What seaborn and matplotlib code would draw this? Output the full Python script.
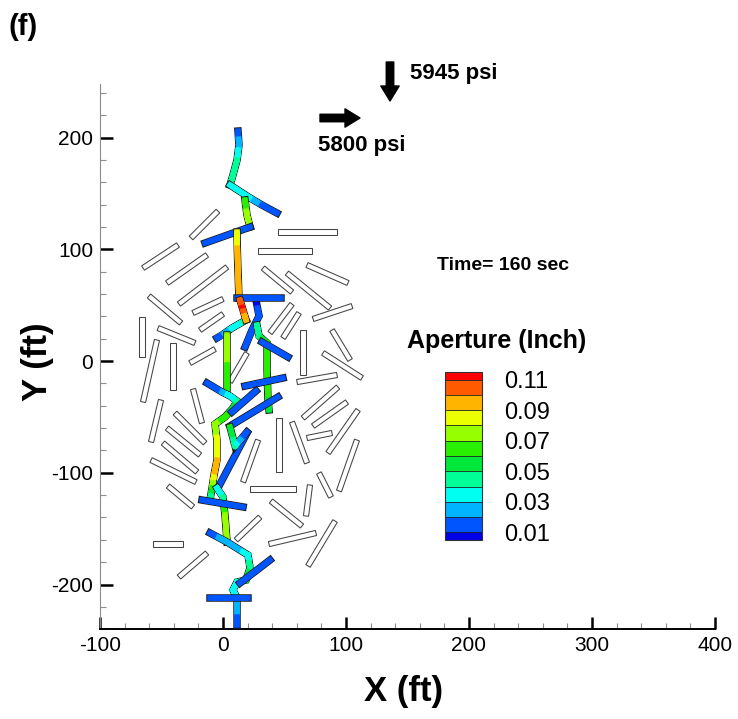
import numpy as np
import pandas as pd
import matplotlib
matplotlib.use("Agg")
import matplotlib.pyplot as plt
import seaborn as sns
from matplotlib.collections import LineCollection
from matplotlib.colors import ListedColormap, BoundaryNorm
from matplotlib.cm import ScalarMappable
from matplotlib.patches import Polygon, FancyArrowPatch
from matplotlib.ticker import MultipleLocator

# ---- natural fractures: end points (ft) ----
nf_x0 = [-26.0, -65.0, -45.5, -35.8, -24.4, -18.7, -65.9, -60.2, -52.8, -53.7,
         -40.7, -24.4, -50.4, -39.0, -45.5, -48.8, -58.5, -26.8, 5.7, 28.5,
         -44.7, -56.9, -35.8, 10.6, 44.7, 28.5, 32.5, 52.0, 68.3, 73.2,
         38.2, 48.8, 65.0, 88.6, 81.3, 60.2, 65.0, 73.2, 45.5, 56.1,
         68.3, 85.4, 94.3, 22.0, 39.0, 70.7, 78.0, 37.4, 91.1]
nf_y0 = [110.1, 83.2, 69.8, 51.0, 43.0, 27.7, 39.4, 58.2, 29.5, 18.8,
         16.1, -25.1, -34.9, -46.5, -60.0, -73.4, -88.6, -1.8, -18.8, -70.7,
         -111.9, -163.8, -193.3, -160.2, 115.4, 98.4, 83.2, 78.7, 85.9, 37.6,
         25.1, 20.6, 27.7, 27.7, 7.2, -18.8, -51.0, -58.2, -51.0, -54.6,
         -68.9, -82.3, -116.3, -114.5, -125.3, -111.0, -100.2, -163.8, -143.2]
nf_x1 = [-4.1, -36.6, -13.0, 3.3, 0.0, 0.0, -65.9, -34.1, -22.8, -65.0,
         -40.7, -17.1, -58.5, -14.6, -18.7, -21.1, -22.0, -6.5, 19.5, 16.3,
         -24.4, -32.5, -13.0, 30.1, 92.7, 72.4, 56.1, 87.0, 101.6, 104.9,
         56.1, 61.8, 65.0, 103.3, 113.0, 92.7, 93.5, 100.8, 45.5, 68.3,
         88.6, 109.8, 108.9, 59.3, 64.2, 67.5, 87.8, 75.6, 69.1]
nf_y1 = [134.2, 103.8, 94.9, 84.1, 55.5, 42.1, 3.6, 34.0, 16.1, -36.7,
         -26.0, -55.5, -72.5, -73.4, -84.1, -99.3, -108.3, 10.7, 7.2, -108.3,
         -130.6, -163.8, -171.8, -139.6, 115.4, 98.4, 61.7, 47.4, 69.8, 49.2,
         51.0, 43.0, -12.5, 0.9, -15.2, -12.5, -23.3, -36.7, -99.3, -91.3,
         -64.4, -43.8, -70.7, -114.5, -147.7, -138.7, -121.7, -153.9, -183.4]

# ---- hydraulic fracture traces (ft) and aperture (inch) at each vertex ----
hf_x = [
    [12.2, 13.0, 11.4, 8.1, 5.7],
    [5.7, 22.0, 31.7, 43.9],
    [17.9, 19.5, 22.0],
    [-14.6, 22.0],
    [11.4, 11.6, 12.2, 13.0],
    [18.7, 7.3, -0.8, -4.9],
    [26.8, 29.3, 23.6, 17.9],
    [3.3, 3.3, 3.3],
    [-13.0, -0.8, 5.7, 11.4, 8.1, 1.6, -6.5, -4.9, -4.9, -7.3, -8.9, -10.6],
    [27.6, 29.3, 35.8, 35.8, 36.6, 37.4],
    [31.7, 52.8],
    [17.9, 48.8],
    [7.3, 26.8],
    [5.7, 44.7],
    [19.5, -4.1],
    [5.7, 9.8, 19.5],
    [-4.9, 0.0, 1.6, 3.3],
    [-17.1, 16.3],
    [-10.6, 3.3, 20.3, 22.0, 18.7, 11.4, 8.1, 11.4, 11.4, 11.4],
    [-10.6, 20.3],
    [13.8, 38.2],
    [11.4, 47.2],
    [13.8, 16.3, 18.7],
]
hf_y = [
    [205.8, 193.3, 179.9, 166.4, 157.5],
    [157.5, 145.9, 139.6, 132.4],
    [144.1, 130.6, 119.9],
    [105.6, 119.9],
    [115.4, 101.0, 80.0, 56.4],
    [36.7, 29.5, 23.3, 20.6],
    [54.6, 40.3, 27.7, 12.5],
    [23.3, 0.9, -26.0],
    [-19.7, -27.7, -31.3, -35.8, -42.1, -50.1, -56.4, -70.7, -88.6, -102.0, -113.6, -124.4],
    [32.2, 22.4, 16.1, -8.1, -34.9, -43.8],
    [17.0, 3.6],
    [-22.4, -15.2],
    [-45.6, -26.8],
    [-58.2, -32.2],
    [-64.4, -113.6],
    [-59.1, -76.1, -63.5],
    [-113.6, -121.7, -137.8, -162.0],
    [-124.4, -130.6],
    [-153.9, -162.0, -173.6, -185.2, -196.0, -197.8, -204.9, -212.1, -222.8, -236.2],
    [-212.1, -212.1],
    [-198.7, -178.1],
    [56.4, 56.4],
    [54.6, 45.6, 36.7],
]
hf_ap = [
    [0.012, 0.025, 0.04, 0.045, 0.04],
    [0.04, 0.035, 0.02, 0.015],
    [0.065, 0.072, 0.078],
    [0.013, 0.016],
    [0.085, 0.09, 0.095, 0.098],
    [0.045, 0.035, 0.025, 0.015],
    [0.008, 0.012, 0.015, 0.015],
    [0.078, 0.072, 0.062],
    [0.015, 0.02, 0.035, 0.04, 0.055, 0.062, 0.072, 0.082, 0.09, 0.095, 0.07, 0.04],
    [0.04, 0.045, 0.062, 0.062, 0.06, 0.055],
    [0.015, 0.015],
    [0.015, 0.015],
    [0.015, 0.015],
    [0.015, 0.015],
    [0.015, 0.015],
    [0.062, 0.045, 0.012],
    [0.03, 0.04, 0.07, 0.076],
    [0.012, 0.015],
    [0.015, 0.025, 0.032, 0.045, 0.06, 0.04, 0.035, 0.035, 0.025, 0.015],
    [0.012, 0.012],
    [0.015, 0.015],
    [0.012, 0.012],
    [0.105, 0.112, 0.09],
]

# ---- aperture colour scale ----
aperture_levels = [0.005, 0.01, 0.02, 0.03, 0.04, 0.05, 0.06,
                   0.07, 0.08, 0.09, 0.10, 0.11, 0.115]
aperture_colors = ["#0000e6", "#0055ff", "#00b4ff", "#00fff0", "#00ff96", "#00e83a",
                   "#28f000", "#96ff00", "#ebff00", "#ffb400", "#ff5a00", "#ff0000"]
cbar_ticks = [0.01, 0.03, 0.05, 0.07, 0.09, 0.11]

x_ticks = [-100, 0, 100, 200, 300, 400]
y_ticks = [-200, -100, 0, 100, 200]

sns.set_theme(style="white")
plt.rcParams["font.family"] = ["Liberation Sans", "DejaVu Sans"]
plt.rcParams["axes.unicode_minus"] = False
plt.rcParams["text.color"] = "black"
plt.rcParams["xtick.color"] = "black"
plt.rcParams["ytick.color"] = "black"
plt.rcParams["xtick.labelcolor"] = "black"
plt.rcParams["ytick.labelcolor"] = "black"

W, H = 738, 719
fig = plt.figure(figsize=(W / 100, H / 100), dpi=100)
fig.patch.set_facecolor("white")
ax = fig.add_axes([100 / W, 1 - 629.2 / H, 615 / W, 545.3 / H])
ax.set_facecolor("white")
ax.set_xlim(-100, 400)
ax.set_ylim(-240, 248)
ax.set_autoscale_on(False)

cmap = ListedColormap(aperture_colors)
norm = BoundaryNorm(aperture_levels, cmap.N)

# natural fractures: slabs of fixed on-screen width
half_w = 2.6
to_disp = ax.transData
to_data = to_disp.inverted()
for x0, y0, x1, y1 in zip(nf_x0, nf_y0, nf_x1, nf_y1):
    p0 = to_disp.transform((x0, y0))
    p1 = to_disp.transform((x1, y1))
    d = p1 - p0
    d = d / np.hypot(*d)
    nrm = np.array([-d[1], d[0]]) * half_w
    corners = np.array([p0 + nrm, p1 + nrm, p1 - nrm, p0 - nrm])
    ax.add_patch(Polygon(to_data.transform(corners), closed=True, facecolor="white",
                         edgecolor="#444444", lw=0.75, zorder=2))

# hydraulic fractures coloured by aperture
z = 3
for xs, ys, aps in zip(hf_x, hf_y, hf_ap):
    sns.lineplot(x=xs, y=ys, sort=False, estimator=None, color="#1c1c1c",
                 linewidth=5.4, solid_capstyle="projecting", solid_joinstyle="miter",
                 ax=ax, zorder=z)
    segs, vals = [], []
    for i in range(len(xs) - 1):
        t = np.linspace(0, 1, 13)
        px = xs[i] + (xs[i + 1] - xs[i]) * t
        py = ys[i] + (ys[i + 1] - ys[i]) * t
        pv = aps[i] + (aps[i + 1] - aps[i]) * t
        for j in range(len(t) - 1):
            segs.append([(px[j], py[j]), (px[j + 1], py[j + 1])])
            vals.append(0.5 * (pv[j] + pv[j + 1]))
    lc = LineCollection(segs, cmap=cmap, norm=norm, linewidths=4.0,
                        capstyle="projecting", zorder=z + 0.5)
    lc.set_array(np.array(vals))
    ax.add_collection(lc)
    z += 1

# axes styling
for s in ["top", "right"]:
    ax.spines[s].set_visible(False)
ax.spines["bottom"].set_color("black")
ax.spines["bottom"].set_linewidth(1.4)
ax.spines["left"].set_color("#8c8c8c")
ax.spines["left"].set_linewidth(0.8)
ax.set_xticks(x_ticks)
ax.set_yticks(y_ticks)
ax.xaxis.set_minor_locator(MultipleLocator(20))
ax.yaxis.set_minor_locator(MultipleLocator(20))
ax.tick_params(which="major", direction="in", length=9, width=1.8, color="black",
               labelcolor="black", labelsize=15, pad=5, bottom=True, left=True)
ax.tick_params(which="minor", direction="in", length=4.5, width=0.8, color="#8c8c8c",
               bottom=True, left=True)
ax.set_xlabel("")
ax.set_ylabel("")
ax.grid(False)

fig.text(404 / W, 1 - 691 / H, "X (ft)", fontsize=25, fontweight="bold",
         ha="center", va="center")
fig.text(37 / W, 1 - 362 / H, "Y (ft)", fontsize=25, fontweight="bold",
         ha="center", va="center", rotation=90)
fig.text(8 / W, 1 - 27 / H, "(f)", fontsize=21, fontweight="bold", ha="left", va="center")

# stress annotations
fig.text(410 / W, 1 - 73 / H, "5945 psi", fontsize=16, fontweight="bold",
         ha="left", va="center")
fig.text(318 / W, 1 - 145 / H, "5800 psi", fontsize=16, fontweight="bold",
         ha="left", va="center")
astyle = "simple,head_length=0.9,head_width=1.1,tail_width=0.45"
fig.add_artist(FancyArrowPatch((390 / W, 1 - 62 / H), (390 / W, 1 - 101 / H),
                               transform=fig.transFigure, arrowstyle=astyle,
                               mutation_scale=12, color="black", shrinkA=0, shrinkB=0))
fig.add_artist(FancyArrowPatch((320 / W, 1 - 118 / H), (360 / W, 1 - 118 / H),
                               transform=fig.transFigure, arrowstyle=astyle,
                               mutation_scale=12, color="black", shrinkA=0, shrinkB=0))

fig.text(437 / W, 1 - 265 / H, "Time= 160 sec", fontsize=14, fontweight="bold",
         ha="left", va="center")
fig.text(407 / W, 1 - 341 / H, "Aperture (Inch)", fontsize=18, fontweight="bold",
         ha="left", va="center")

# colour bar
cax = fig.add_axes([445 / W, 1 - 540 / H, 37 / W, 168 / H])
cb = fig.colorbar(ScalarMappable(norm=norm, cmap=cmap), cax=cax,
                  boundaries=aperture_levels, ticks=cbar_ticks,
                  spacing="proportional", drawedges=True)
cb.ax.set_yticklabels([f"{t:.2f}" for t in cbar_ticks])
cb.ax.minorticks_off()
cb.ax.tick_params(which="both", length=0, width=0, labelsize=17, pad=16,
                  labelcolor="black")
cb.outline.set_edgecolor("#333333")
cb.outline.set_linewidth(0.8)
cb.dividers.set_color("#222222")
cb.dividers.set_linewidth(0.6)

fig.savefig("out.png", dpi=100, facecolor="white")
